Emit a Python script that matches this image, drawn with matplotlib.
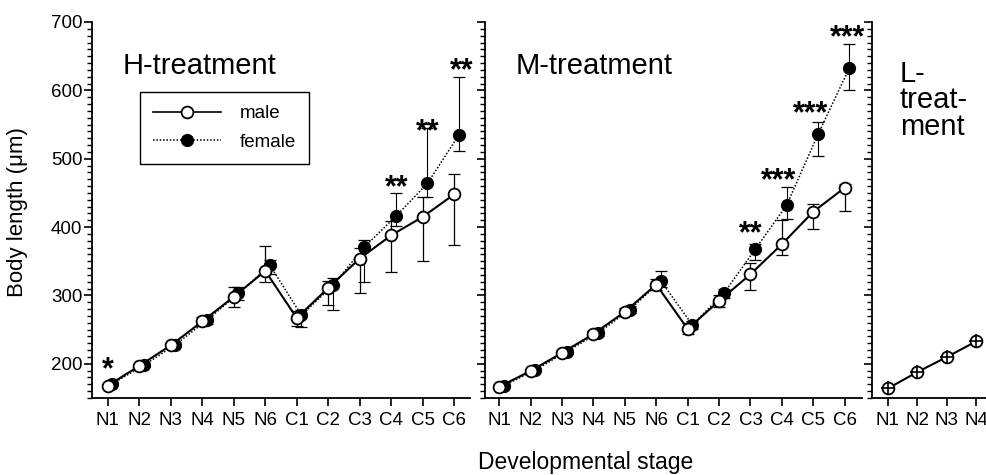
import matplotlib
matplotlib.use("Agg")
import matplotlib.pyplot as plt
from matplotlib.ticker import MultipleLocator
from matplotlib.lines import Line2D

plt.rcParams['font.family'] = ['Liberation Sans', 'DejaVu Sans']

stages = ['N1', 'N2', 'N3', 'N4', 'N5', 'N6', 'C1', 'C2', 'C3', 'C4', 'C5', 'C6']
stages_L = ['N1', 'N2', 'N3', 'N4']

h_male = [168, 197, 227, 262, 298, 336, 267, 311, 354, 388, 415, 448]
h_female = [171, 198, 228, 264, 303, 344, 271, 315, 371, 416, 464, 535]
h_male_lo = [3, 3, 4, 6, 15, 16, 12, 25, 51, 53, 64, 74]
h_male_hi = [3, 3, 4, 6, 14, 37, 10, 10, 15, 21, 29, 30]
h_female_lo = [3, 3, 4, 6, 10, 12, 17, 36, 51, 15, 20, 23]
h_female_hi = [3, 3, 4, 6, 10, 8, 8, 10, 10, 34, 81, 85]

m_male = [166.5, 189.5, 216, 243.6, 276, 316, 251, 292, 331, 375, 422.5, 457.6]
m_female = [168, 191, 218, 245, 279, 321, 257, 303, 367.5, 432, 535.7, 633]
m_male_lo = [3, 3, 4, 4, 5, 8, 8, 9, 23, 16, 25, 34]
m_male_hi = [3, 3, 4, 4, 5, 8, 8, 9, 16, 35, 12, 5]
m_female_lo = [3, 3, 4, 4, 5, 8, 6, 6, 15, 20, 32, 33]
m_female_hi = [3, 3, 4, 4, 5, 15, 6, 6, 8, 26, 18, 35]

l_vals = [164, 188, 210, 233]

h_star_x = [0.0, 9.17, 10.16, 11.23]
h_star_y = [191, 457, 538, 628]
h_star_txt = ['*', '**', '**', '**']
m_star_x = [8.02, 8.9, 9.9, 11.1]
m_star_y = [389, 467, 565, 676]
m_star_txt = ['**', '***', '***', '***']

W, H = 987, 475
fig = plt.figure(figsize=(W / 100, H / 100), dpi=100)

def px_axes(x0, x1, y0, y1):
    return fig.add_axes([x0 / W, 1 - y1 / H, (x1 - x0) / W, (y1 - y0) / H])

ax_h = px_axes(92, 470, 22, 398)
ax_m = px_axes(485, 862, 22, 398)
ax_l = px_axes(872, 987, 22, 398)

FOFF = 0.15
MS = 8.5

def style(ax, labels, xlim, show_y):
    ax.set_ylim(150, 700)
    ax.set_xlim(*xlim)
    for s in ('top', 'right'):
        ax.spines[s].set_visible(False)
    for s in ('left', 'bottom'):
        ax.spines[s].set_linewidth(1.3)
    ax.yaxis.set_major_locator(MultipleLocator(100))
    ax.yaxis.set_minor_locator(MultipleLocator(10))
    ax.set_yticks([200, 300, 400, 500, 600, 700])
    ax.set_xticks(range(len(labels)))
    ax.set_xticklabels(labels, fontsize=13.5)
    ax.tick_params(axis='y', which='major', length=6, width=1.2, direction='out', labelsize=13.5, pad=1)
    ax.tick_params(axis='y', which='minor', length=3.5, width=1.0, direction='out')
    ax.tick_params(axis='x', which='major', length=6, width=1.2, direction='out', pad=4)
    if not show_y:
        ax.set_yticklabels([])

def panel(ax, male, female, mlo, mhi, flo, fhi):
    x = list(range(len(male)))
    xf = [v + FOFF for v in x]
    ax.errorbar(xf, female, yerr=[flo, fhi], fmt='none', ecolor='black',
                elinewidth=0.8, capsize=4, capthick=0.9, zorder=1)
    ax.plot(xf, female, linestyle=(0, (1, 1.2)), color='black', linewidth=1.1,
            marker='o', markersize=MS, markerfacecolor='black', markeredgecolor='black', zorder=2)
    ax.errorbar(x, male, yerr=[mlo, mhi], fmt='none', ecolor='black',
                elinewidth=0.9, capsize=4, capthick=0.9, zorder=3)
    ax.plot(x, male, linestyle='-', color='black', linewidth=1.5,
            marker='o', markersize=MS, markerfacecolor='white', markeredgecolor='black',
            markeredgewidth=1.3, zorder=4)

panel(ax_h, h_male, h_female, h_male_lo, h_male_hi, h_female_lo, h_female_hi)
panel(ax_m, m_male, m_female, m_male_lo, m_male_hi, m_female_lo, m_female_hi)

xl = list(range(len(l_vals)))
ax_l.plot(xl, l_vals, '-', color='black', linewidth=1.5, marker='o', markersize=MS,
          markerfacecolor='white', markeredgecolor='black', markeredgewidth=1.3, zorder=3)
ax_l.plot(xl, l_vals, linestyle='none', marker='+', markersize=MS + 1, color='black',
          markeredgewidth=1.2, zorder=4)

style(ax_h, stages, (-0.5, 11.5), True)
style(ax_m, stages, (-0.45, 11.55), False)
style(ax_l, stages_L, (-0.54, 3.36), False)

for x, y, t in zip(h_star_x, h_star_y, h_star_txt):
    ax_h.text(x, y, t, ha='center', va='center', fontsize=22, fontweight='bold')
for x, y, t in zip(m_star_x, m_star_y, m_star_txt):
    ax_m.text(x, y, t, ha='center', va='center', fontsize=22, fontweight='bold')

ax_h.text(0.082, 0.883, 'H-treatment', transform=ax_h.transAxes, fontsize=21, va='center', ha='left')
ax_m.text(0.08, 0.883, 'M-treatment', transform=ax_m.transAxes, fontsize=21, va='center', ha='left')
ax_l.text(0.24, 0.9, 'L-\ntreat-\nment', transform=ax_l.transAxes, fontsize=21, va='top', ha='left',
          linespacing=0.95)

handles = [
    Line2D([], [], linestyle='-', color='black', linewidth=1.2, marker='o', markersize=MS,
           markerfacecolor='white', markeredgecolor='black', markeredgewidth=1.3),
    Line2D([], [], linestyle=(0, (1, 1.2)), color='black', linewidth=1.1, marker='o', markersize=MS,
           markerfacecolor='black', markeredgecolor='black'),
]
leg = ax_h.legend(handles, ['male', 'female'], loc='upper left',
                  bbox_to_anchor=((140 - 92) / 378, (398 - 92) / 376), borderaxespad=0,
                  fontsize=13.5, handlelength=3.6, handletextpad=1.0, borderpad=0.7,
                  labelspacing=0.6, fancybox=False, framealpha=1, edgecolor='black')
leg.get_frame().set_linewidth(1.0)

fig.text(18 / W, 1 - 212 / H, 'Body length (\u03bcm)', rotation=90, fontsize=16, ha='center', va='center')
fig.text(586 / W, 1 - 463 / H, 'Developmental stage', fontsize=16.5, ha='center', va='center')

fig.savefig('out.png', dpi=100)
